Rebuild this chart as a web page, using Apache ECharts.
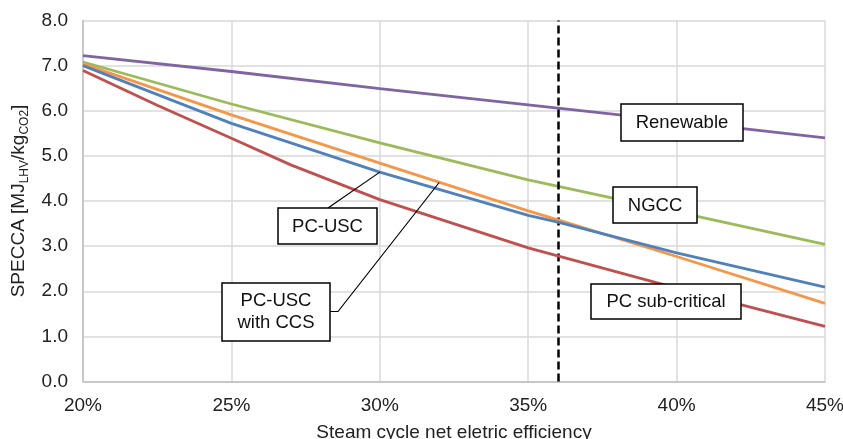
<!DOCTYPE html>
<html>
<head>
<meta charset="utf-8">
<script src="https://cdn.jsdelivr.net/npm/echarts@6/dist/echarts.min.js"></script>
<style>
html,body{margin:0;padding:0;background:#fff;}
#chart{width:843px;height:439px;}
</style>
</head>
<body>
<div id="chart"></div>
<script>
// efficiency points (%) and SPECCA values [MJ_LHV/kg_CO2]
const effRenewable = [20, 25, 30, 35, 40, 45];
const valRenewable = [7.22, 6.87, 6.49, 6.13, 5.77, 5.40];
const effNGCC = [20, 25, 30, 35, 40, 45];
const valNGCC = [7.08, 6.15, 5.29, 4.47, 3.76, 3.04];
const effUSCCCS = [20, 25, 30, 35, 36, 40, 45];
const valUSCCCS = [7.04, 5.91, 4.84, 3.78, 3.58, 2.77, 1.73];
const effUSC = [20, 25, 30, 35, 36, 40, 45];
const valUSC = [7.00, 5.72, 4.64, 3.68, 3.53, 2.85, 2.09];
const effSub = [20, 22.5, 25, 27, 30, 35, 40, 45];
const valSub = [6.89, 6.12, 5.39, 4.80, 4.03, 2.96, 2.07, 1.22];
const refEfficiency = 36;
const xTicks = [20, 25, 30, 35, 40, 45];
const yTicks = [0, 1, 2, 3, 4, 5, 6, 7, 8];
const seriesNames = ['Renewable', 'NGCC', 'PC-USC with CCS', 'PC-USC', 'PC sub-critical'];
const colors = ['#8064A2', '#9BBB59', '#F79646', '#4F81BD', '#C0504D'];

function pairs(xs, ys) { return xs.map((x, i) => [x, ys[i]]); }
const allData = [
  pairs(effRenewable, valRenewable),
  pairs(effNGCC, valNGCC),
  pairs(effUSCCCS, valUSCCCS),
  pairs(effUSC, valUSC),
  pairs(effSub, valSub)
];

const FONT = '"Liberation Sans", Arial, sans-serif';
const FS = 19;
const chart = echarts.init(document.getElementById('chart'), null, {renderer: 'canvas'});

const series = allData.map((d, i) => ({
  name: seriesNames[i],
  type: 'line',
  data: d,
  showSymbol: false,
  symbol: 'none',
  lineStyle: {color: colors[i], width: 2.8},
  z: 3 + i,
  animation: false
}));
series[0].markLine = {
  silent: true,
  symbol: 'none',
  label: {show: false},
  lineStyle: {color: '#000', type: [8, 4], width: 2.5},
  data: [{xAxis: refEfficiency}],
  animation: false
};

chart.setOption({
  animation: false,
  grid: {left: 83, right: 18, top: 20.5, bottom: 57.5, containLabel: false, outerBoundsMode: 'none'},
  xAxis: {
    type: 'value', min: xTicks[0], max: xTicks[xTicks.length - 1], interval: 5,
    axisLine: {show: true, lineStyle: {color: '#BFBFBF', width: 1.5}},
    axisTick: {show: false},
    splitLine: {show: true, lineStyle: {color: '#D9D9D9', width: 1.5}},
    axisLabel: {formatter: '{value}%', fontFamily: FONT, fontSize: FS, color: '#222', margin: 15},
    name: 'Steam cycle net eletric efficiency',
    nameLocation: 'middle', nameGap: 42,
    nameTextStyle: {fontFamily: FONT, fontSize: FS, color: '#222'}
  },
  yAxis: {
    type: 'value', min: yTicks[0], max: yTicks[yTicks.length - 1], interval: 1,
    axisLine: {show: true, lineStyle: {color: '#BFBFBF', width: 1.5}},
    axisTick: {show: false},
    splitLine: {show: true, lineStyle: {color: '#D9D9D9', width: 1.5}},
    axisLabel: {formatter: v => v.toFixed(1), fontFamily: FONT, fontSize: FS, color: '#222', margin: 15},
    name: '{n|SPECCA [MJ}{s|LHV}{n|/kg}{s|CO2}{n|]}',
    nameLocation: 'middle', nameGap: 52,
    nameTextStyle: {
      fontFamily: FONT, fontSize: FS, color: '#222',
      rich: {
        n: {fontFamily: FONT, fontSize: FS, color: '#222', lineHeight: 24},
        s: {fontFamily: FONT, fontSize: 12, color: '#222', verticalAlign: 'bottom', lineHeight: 24, padding: [7, 0, 0, 0]}
      }
    }
  },
  series: series
});

// annotations
function box(x, y, w, h, text, cx, cy) {
  return [
    {type: 'rect', z: 100, shape: {x: x, y: y, width: w, height: h},
     style: {fill: '#fff', stroke: '#000', lineWidth: 1.5}},
    {type: 'text', z: 101, style: {text: text, x: cx, y: cy, font: '18.5px ' + FONT,
     fill: '#111', align: 'center', verticalAlign: 'middle', lineHeight: 22}}
  ];
}
const pUSC = chart.convertToPixel({gridIndex: 0}, [30, 4.64]);
const pCCS = chart.convertToPixel({gridIndex: 0}, [32, 4.41]);
const elements = [].concat(
  [{type: 'polyline', z: 99, shape: {points: [[328, 208], pUSC]}, style: {stroke: '#000', lineWidth: 1.2, fill: null}},
   {type: 'polyline', z: 99, shape: {points: [[330, 311.5], [338, 311.5], pCCS]}, style: {stroke: '#000', lineWidth: 1.2, fill: null}}],
  box(621, 104, 122, 37, 'Renewable', 682, 123),
  box(613, 187, 84, 36, 'NGCC', 655, 205.5),
  box(591, 284, 150, 35, 'PC sub-critical', 666, 302),
  box(278, 208, 99, 36, 'PC-USC', 327.5, 226.5),
  box(222, 283, 108, 58, 'PC-USC\nwith CCS', 276, 312)
);
chart.setOption({graphic: {elements: elements}});
</script>
</body>
</html>
